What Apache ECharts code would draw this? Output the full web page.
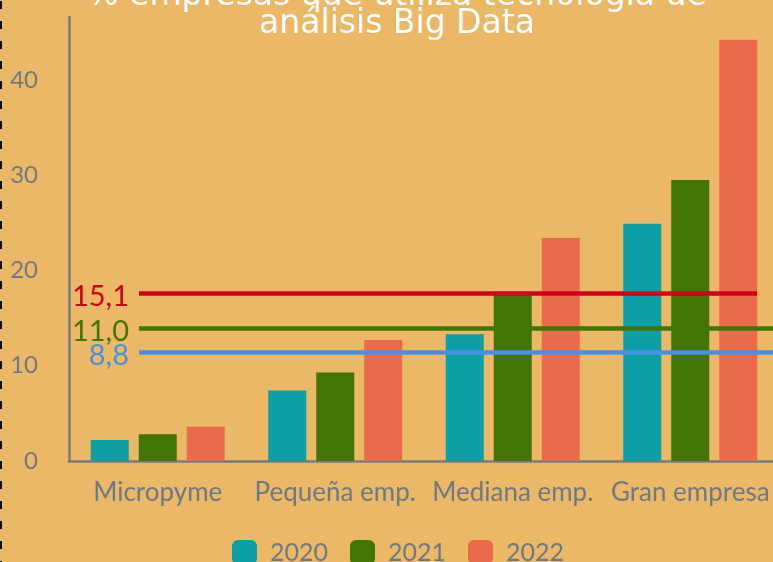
<!DOCTYPE html>
<html>
<head>
<meta charset="utf-8">
<script src="https://cdn.jsdelivr.net/npm/echarts@6/dist/echarts.min.js"></script>
<style>
  html, body { margin: 0; padding: 0; background: #ebb867; }
  #wrap { position: relative; width: 773px; height: 562px; overflow: hidden; }
  #chart { width: 773px; height: 562px; }
  #dash { position: absolute; left: 0; top: 0; width: 2px; height: 562px;
    background: repeating-linear-gradient(to bottom, transparent 0px, transparent 1px, #000 1px, #000 9px, transparent 9px, transparent 20px); }
</style>
</head>
<body>
<div id="wrap"><div id="chart"></div><div id="dash"></div></div>
<script>
const titleLines = ['% empresas que utiliza tecnología de', 'análisis Big Data'];
const categories = ['Micropyme', 'Pequeña emp.', 'Mediana emp.', 'Gran empresa'];
const years = ['2020', '2021', '2022'];
const values2020 = [2.2, 7.4, 13.3, 24.9];
const values2021 = [2.8, 9.3, 17.6, 29.5];
const values2022 = [3.6, 12.7, 23.4, 44.2];
const refValues = [17.6, 13.9, 11.4];
const refLabels = ['15,1', '11,0', '8,8'];
const yTicks = [0, 10, 20, 30, 40];

const barColors = ['#0e9ea6', '#427506', '#e86b4c'];
const refColors = ['#d0021b', '#417505', '#4a90e2'];
const refEndX = [757, '100%', '100%'];
const gray = '#6f7884';

const chart = echarts.init(document.getElementById('chart'));

const markData = refValues.map((v, i) => [
  {
    x: 139, xAxis: 0, yAxis: v,
    lineStyle: { color: refColors[i], width: 4.5, type: 'solid' },
    label: {
      show: true, position: 'start', distance: 10,
      formatter: refLabels[i], color: refColors[i],
      fontFamily: 'Lato', fontSize: 29, offset: [0, 3]
    }
  },
  { x: refEndX[i], xAxis: 3, yAxis: v }
]);

const seriesValues = [values2020, values2021, values2022];

chart.setOption({
  backgroundColor: '#ebb867',
  animation: false,
  title: {
    text: titleLines.join('\n'),
    left: 392, top: -23,
    textAlign: 'center',
    textStyle: { color: '#ffffff', fontFamily: 'DejaVu Sans', fontWeight: 'normal', fontSize: 33, lineHeight: 28 }
  },
  legend: {
    data: years,
    left: 232, top: 540,
    itemWidth: 25, itemHeight: 25, itemGap: 22,
    icon: 'roundRect',
    padding: 0,
    textStyle: { color: gray, fontFamily: 'Lato', fontSize: 25, padding: [0, 0, 0, 8] }
  },
  grid: { left: 69, top: 17, width: 710, height: 444, containLabel: false, outerBoundsMode: 'none' },
  xAxis: {
    type: 'category',
    data: categories,
    axisLine: { lineStyle: { color: '#777b80', width: 2.5 } },
    axisTick: { show: false },
    axisLabel: { color: gray, fontFamily: 'Lato', fontSize: 26, margin: 19, interval: 0 }
  },
  yAxis: {
    type: 'value',
    min: 0, max: 46.6, interval: 10,
    axisLine: { show: true, lineStyle: { color: '#777b80', width: 2.5 } },
    axisTick: { show: false },
    splitLine: { show: false },
    axisLabel: {
      color: gray, fontFamily: 'Lato', fontSize: 24, margin: 31,
      showMaxLabel: false,
      formatter: v => (yTicks.indexOf(v) >= 0 ? String(v) : '')
    }
  },
  series: years.map((y, i) => ({
    name: y,
    type: 'bar',
    data: seriesValues[i],
    barWidth: 38,
    barGap: '26.3%',
    itemStyle: { color: barColors[i] },
    markLine: i === 0 ? { symbol: 'none', silent: true, z: 10, data: markData } : undefined
  }))
});
</script>
</body>
</html>
